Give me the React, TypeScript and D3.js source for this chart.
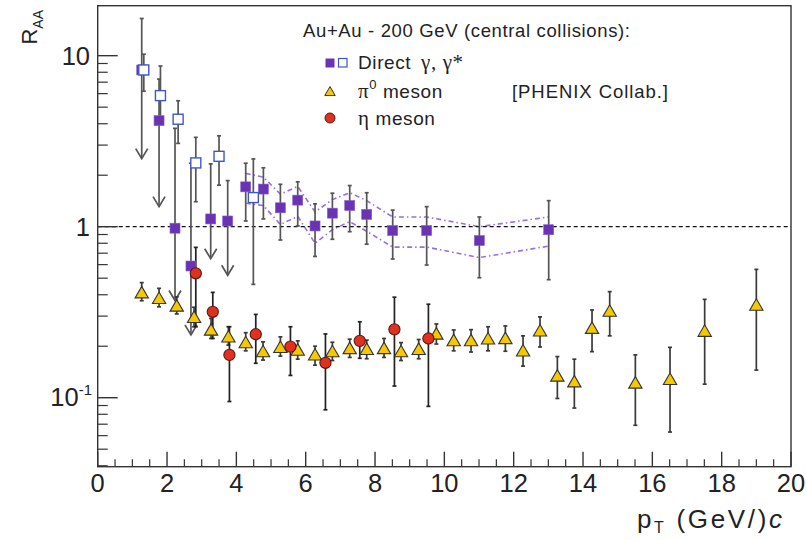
import React from 'react';
import * as d3 from 'd3';

// Direct photons, filled squares (virtual photons)
const gamX = [1.27, 1.77, 2.23, 2.69, 3.26, 3.75, 4.27, 4.78, 5.27, 5.77, 6.27, 6.77, 7.27, 7.76, 8.51, 9.49, 11.01, 13.01];
const gamY = [8.25, 4.17, 0.98, 0.589, 1.11, 1.08, 1.71, 1.66, 1.29, 1.43, 1.01, 1.2, 1.33, 1.18, 0.95, 0.95, 0.83, 0.96];
const gamHi = [16.5, 7.3, 3.76, 2.35, 2.33, 1.86, 2.35, 2.21, 1.77, 1.83, 1.36, 1.57, 1.74, 1.58, 1.25, 1.31, 1.14, 1.42];
const gamLo = [2.5, 1.31, 0.37, 0.233, 0.65, 0.52, 1.08, 1.11, 0.836, 1.01, 0.67, 0.844, 0.935, 0.79, 0.647, 0.597, 0.503, 0.49];
const gamArrow = [true, true, true, true, true, true, false, false, false, false, false, false, false, false, false, false, false, false];

// systematic band for filled squares (from pT 4.27 on)
const bandX = [4.27, 4.78, 5.27, 5.77, 6.27, 6.77, 7.27, 7.76, 8.51, 9.49, 11.01, 13.01];
const bandHi = [2.05, 1.95, 1.55, 1.72, 1.22, 1.44, 1.58, 1.42, 1.14, 1.14, 1.0, 1.14];
const bandLo = [1.37, 1.33, 1.03, 1.15, 0.8, 0.96, 1.07, 0.94, 0.76, 0.76, 0.66, 0.77];

// Direct photons, open squares
const openX = [1.33, 1.81, 2.32, 2.83, 3.5, 4.49];
const openY = [8.25, 5.84, 4.25, 2.36, 2.58, 1.48];
const openHi = [10.2, 8.7, 5.45, 3.33, 3.4, 2.49];
const openLo = [6.2, 4.0, 3.07, 1.4, 1.75, 0.46];

// pi0
const piX = [1.27, 1.77, 2.28, 2.78, 3.27, 3.77, 4.27, 4.77, 5.27, 5.77, 6.27, 6.77, 7.27, 7.76, 8.26, 8.75, 9.26, 9.77, 10.27, 10.77, 11.26, 11.76, 12.27, 12.76, 13.26, 13.75, 14.26, 14.77, 15.51, 16.51, 17.51, 19.0];
const piY = [0.411, 0.381, 0.344, 0.295, 0.249, 0.227, 0.21, 0.186, 0.197, 0.19, 0.178, 0.186, 0.194, 0.192, 0.194, 0.186, 0.192, 0.236, 0.216, 0.216, 0.221, 0.222, 0.188, 0.246, 0.134, 0.124, 0.255, 0.321, 0.122, 0.128, 0.245, 0.348];
const piHi = [0.471, 0.436, 0.389, 0.338, 0.291, 0.26, 0.24, 0.212, 0.227, 0.215, 0.2, 0.211, 0.22, 0.217, 0.222, 0.21, 0.219, 0.27, 0.249, 0.25, 0.26, 0.263, 0.23, 0.297, 0.174, 0.168, 0.326, 0.417, 0.178, 0.197, 0.376, 0.563];
const piLo = [0.369, 0.34, 0.309, 0.26, 0.222, 0.203, 0.188, 0.166, 0.175, 0.168, 0.155, 0.165, 0.172, 0.169, 0.172, 0.165, 0.169, 0.206, 0.188, 0.185, 0.188, 0.187, 0.153, 0.198, 0.099, 0.087, 0.186, 0.23, 0.069, 0.063, 0.12, 0.145];

// eta
const etaX = [2.83, 3.32, 3.8, 4.56, 5.56, 6.57, 7.56, 8.56, 9.54];
const etaY = [0.534, 0.318, 0.178, 0.235, 0.199, 0.16, 0.215, 0.251, 0.222];
const etaHi = [0.757, 0.413, 0.26, 0.307, 0.26, 0.236, 0.278, 0.387, 0.352];
const etaLo = [0.26, 0.222, 0.095, 0.159, 0.135, 0.085, 0.17, 0.117, 0.089];

const xTicks = [0, 2, 4, 6, 8, 10, 12, 14, 16, 18, 20];

const PURPLE = '#6a32b4';
const BLUE = '#3d58c4';
const YELLOW = '#f5c800';
const RED = '#e2301f';
const ERR = '#3a3a3a';
const FONT = 'Liberation Sans, Arial, Helvetica, sans-serif';
const GREEK = 'Liberation Serif, DejaVu Serif, serif';

export default function App() {
  const L = 97.7, R = 791, T = 5.7, B = 466.7;
  const x = d3.scaleLinear().domain([0, 20]).range([L, R]);
  const y = d3.scaleLog().domain([0.0395, 19.6]).range([B, T]);

  const minorX = d3.range(0, 20.01, 0.5).filter((v) => v % 2 !== 0);
  const minorY: number[] = [];
  [0.01, 0.1, 1, 10].forEach((d) => {
    for (let k = 2; k <= 9; k++) {
      const v = k * d;
      if (v > 0.0395 && v < 19.6) minorY.push(v);
    }
  });

  const errBar = (xv: number, lo: number, hi: number, arrow: boolean, key: string, color = ERR, w = 1.7) => {
    const px = x(xv);
    const yt = y(hi), yb = y(lo);
    return (
      <g key={key} stroke={color} strokeWidth={w} fill="none">
        <line x1={px} x2={px} y1={yt} y2={yb} />
        <line x1={px - 2} x2={px + 2} y1={yt} y2={yt} />
        {arrow ? (
          <polyline points={`${px - 6},${yb - 10} ${px},${yb} ${px + 6},${yb - 10}`} />
        ) : (
          <line x1={px - 2} x2={px + 2} y1={yb} y2={yb} />
        )}
      </g>
    );
  };

  const tri = (cx: number, cy: number, s: number) =>
    `${cx - s * 0.58},${cy + s * 0.45} ${cx + s * 0.58},${cy + s * 0.45} ${cx},${cy - s * 0.55}`;

  const bandLine = d3.line<number>().x((_, i) => x(bandX[i])).y((d) => y(d));

  return (
    <svg width={806} height={540} style={{ position: 'absolute', left: 0, top: 0, background: '#fff' }} fontFamily={FONT}>
      <rect x={0} y={0} width={806} height={540} fill="#fff" />
      {/* systematic band */}
      <path d={bandLine(bandHi) || ''} fill="none" stroke="#9a6ee0" strokeWidth={1.6} strokeDasharray="5,3,1.5,3" />
      <path d={bandLine(bandLo) || ''} fill="none" stroke="#9a6ee0" strokeWidth={1.6} strokeDasharray="5,3,1.5,3" />
      {/* unity line */}
      <line x1={L} x2={R} y1={y(1)} y2={y(1)} stroke="#111" strokeWidth={1.2} strokeDasharray="4,3" />

      {/* error bars */}
      {gamX.map((v, i) => errBar(v, gamLo[i], gamHi[i], gamArrow[i], 'ge' + i, '#555'))}
      {openX.map((v, i) => errBar(v, openLo[i], openHi[i], false, 'oe' + i, '#555'))}
      {piX.map((v, i) => errBar(v, piLo[i], piHi[i], false, 'pe' + i))}
      {etaX.map((v, i) => errBar(v, etaLo[i], etaHi[i], false, 'ee' + i, '#222'))}

      {/* markers */}
      {gamX.map((v, i) => (
        <rect key={'g' + i} x={x(v) - 5} y={y(gamY[i]) - 5} width={10} height={10} fill={PURPLE} stroke="#8a5cd0" strokeWidth={0.6} />
      ))}
      {openX.map((v, i) => (
        <rect key={'o' + i} x={x(v) - 5} y={y(openY[i]) - 5} width={10} height={10} fill="#fff" stroke={BLUE} strokeWidth={1.4} />
      ))}
      {piX.map((v, i) => (
        <polygon key={'p' + i} points={tri(x(v), y(piY[i]), 11.5)} fill={YELLOW} stroke="#333" strokeWidth={1.1} />
      ))}
      {etaX.map((v, i) => (
        <circle key={'e' + i} cx={x(v)} cy={y(etaY[i])} r={5.6} fill={RED} stroke="#5a1a10" strokeWidth={1.1} />
      ))}

      {/* frame */}
      <rect x={L} y={T} width={R - L} height={B - T} fill="none" stroke="#333" strokeWidth={1.4} />

      {/* x axis ticks */}
      {xTicks.map((v) => (
        <line key={'xt' + v} x1={x(v)} x2={x(v)} y1={B} y2={B - 15} stroke="#333" strokeWidth={1.4} />
      ))}
      {minorX.map((v) => (
        <line key={'xm' + v} x1={x(v)} x2={x(v)} y1={B} y2={B - 7.5} stroke="#333" strokeWidth={1.2} />
      ))}
      {xTicks.map((v) => (
        <text key={'xl' + v} x={x(v)} y={492} textAnchor="middle" fontSize={25.5} fill="#222">{v}</text>
      ))}

      {/* y axis ticks */}
      {[0.1, 1, 10].map((v) => (
        <line key={'yt' + v} x1={L} x2={L + 20} y1={y(v)} y2={y(v)} stroke="#333" strokeWidth={1.4} />
      ))}
      {minorY.map((v) => (
        <line key={'ym' + v} x1={L} x2={L + 10} y1={y(v)} y2={y(v)} stroke="#333" strokeWidth={1.2} />
      ))}
      <text x={90} y={y(10) + 9} textAnchor="end" fontSize={25.5} fill="#222">10</text>
      <text x={90} y={y(1) + 9} textAnchor="end" fontSize={25.5} fill="#222">1</text>
      <text x={92} y={y(0.1) + 8} textAnchor="end" fontSize={25.5} fill="#222">
        10<tspan fontSize={15} dy={-11}>-1</tspan>
      </text>

      {/* axis titles */}
      <text transform="translate(37,10) rotate(-90)" textAnchor="end" fontSize={22} fill="#222">
        R<tspan fontSize={14} dy={6}>AA</tspan>
      </text>
      <text x={637} y={528} fontSize={26} fill="#222" textLength={145} lengthAdjust="spacing">
        p<tspan fontSize={16} dy={5}>T</tspan>
        <tspan dy={-5}> (GeV/)</tspan>
        <tspan fontStyle="italic">c</tspan>
      </text>

      {/* legend */}
      <text x={303} y={37} fontSize={18.5} fill="#222" textLength={327} lengthAdjust="spacing">Au+Au - 200 GeV (central collisions):</text>
      <rect x={325.5} y={58.5} width={9} height={9} fill={PURPLE} />
      <rect x={338.5} y={58.5} width={8.5} height={8.5} fill="#fff" stroke={BLUE} strokeWidth={1.2} />
      <text x={358} y={69} fontSize={19} fill="#222" letterSpacing={0.6}>
        Direct <tspan fontFamily={GREEK} fontSize={21} dx={4}>γ, γ*</tspan>
      </text>
      <polygon points={tri(330, 91.5, 9)} fill={YELLOW} stroke="#333" strokeWidth={1} />
      <text x={358} y={98} fontSize={19} fill="#222" letterSpacing={0.6}>
        <tspan fontFamily={GREEK} fontSize={21}>π</tspan>
        <tspan fontSize={13} dy={-9}>0</tspan>
        <tspan dy={9}> meson</tspan>
      </text>
      <text x={512} y={98} fontSize={18.5} fill="#222" textLength={156} lengthAdjust="spacing">[PHENIX Collab.]</text>
      <circle cx={330} cy={118} r={5} fill={RED} stroke="#5a1a10" strokeWidth={1} />
      <text x={358} y={125} fontSize={19} fill="#222" letterSpacing={0.6}>
        <tspan fontFamily={GREEK} fontSize={21}>η</tspan> meson
      </text>
    </svg>
  );
}
